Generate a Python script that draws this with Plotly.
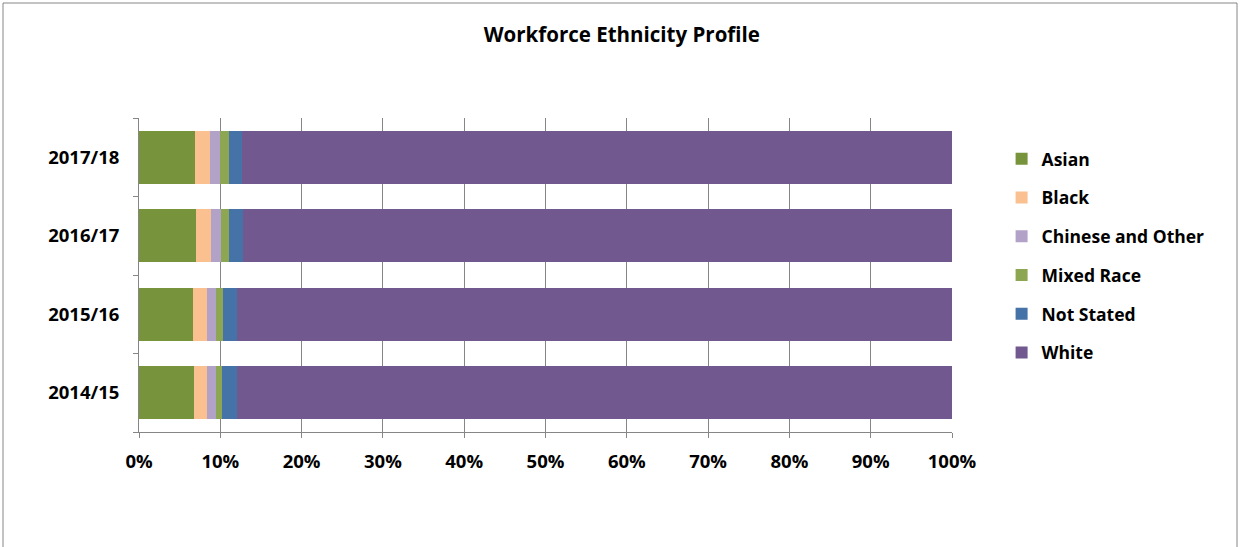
import plotly.graph_objects as go

years = ["2014/15", "2015/16", "2016/17", "2017/18"]
asian = [6.77, 6.68, 7.0, 6.9]
black = [1.6, 1.68, 1.8, 1.8]
chinese_other = [1.07, 1.07, 1.25, 1.3]
mixed_race = [0.74, 0.87, 1.0, 1.1]
not_stated = [1.93, 1.8, 1.7, 1.55]
white = [87.89, 87.9, 87.25, 87.35]

series = [
    ("Asian", asian, "#77933C"),
    ("Black", black, "#FAC090"),
    ("Chinese and Other", chinese_other, "#B3A2C7"),
    ("Mixed Race", mixed_race, "#8DA652"),
    ("Not Stated", not_stated, "#4572A7"),
    ("White", white, "#71588F"),
]
x_ticks = [0, 10, 20, 30, 40, 50, 60, 70, 80, 90, 100]

fig = go.Figure()
for name, vals, color in series:
    fig.add_trace(go.Bar(
        y=years, x=vals, name=f"<b>{name}</b>", orientation="h",
        marker=dict(color=color, line=dict(width=0)),
        legendgroup=name,
    ))

font_family = "Open Sans, Liberation Sans, sans-serif"
fig.update_layout(
    width=1240, height=547,
    barmode="stack", bargap=0.33,
    plot_bgcolor="white", paper_bgcolor="white",
    margin=dict(l=139, r=288, t=118, b=115),
    title=dict(text="<b>Workforce Ethnicity Profile</b>", x=0.5015, xanchor="center",
               y=0.936, yanchor="middle",
               font=dict(family=font_family, size=20.5, color="black")),
    xaxis=dict(range=[0, 100], tickvals=x_ticks,
               ticktext=[f"<b>{v}%</b>" for v in x_ticks],
               showgrid=True, gridcolor="#868686", gridwidth=1,
               showline=True, linecolor="#868686", linewidth=1,
               ticks="outside", ticklen=5, tickcolor="#868686",
               zeroline=False, ticklabelstandoff=8,
               tickfont=dict(family=font_family, size=18.5, color="black")),
    yaxis=dict(categoryorder="array", categoryarray=years,
               tickvals=years, ticktext=[f"<b>{y}</b>" for y in years],
               showline=True, linecolor="#868686", linewidth=1,
               ticks="outside", ticklen=5, tickcolor="#868686",
               tickson="boundaries", showgrid=False,
               ticklabelstandoff=15,
               tickfont=dict(family=font_family, size=18.5, color="black")),
    legend=dict(x=1.061, y=0.927, xanchor="left", yanchor="top",
                traceorder="grouped", tracegroupgap=13,
                font=dict(family=font_family, size=17.5, color="black"),
                itemwidth=30),
    shapes=[dict(type="rect", xref="paper", yref="paper",
                 x0=(3 - 139) / 813, x1=(1237 - 139) / 813,
                 y0=(115 - 544) / 314, y1=1 + (118 - 3) / 314,
                 line=dict(color="#868686", width=1))],
)

fig.write_html("out.html", config={"displayModeBar": False},
               post_script="document.body.style.margin='0px';")
